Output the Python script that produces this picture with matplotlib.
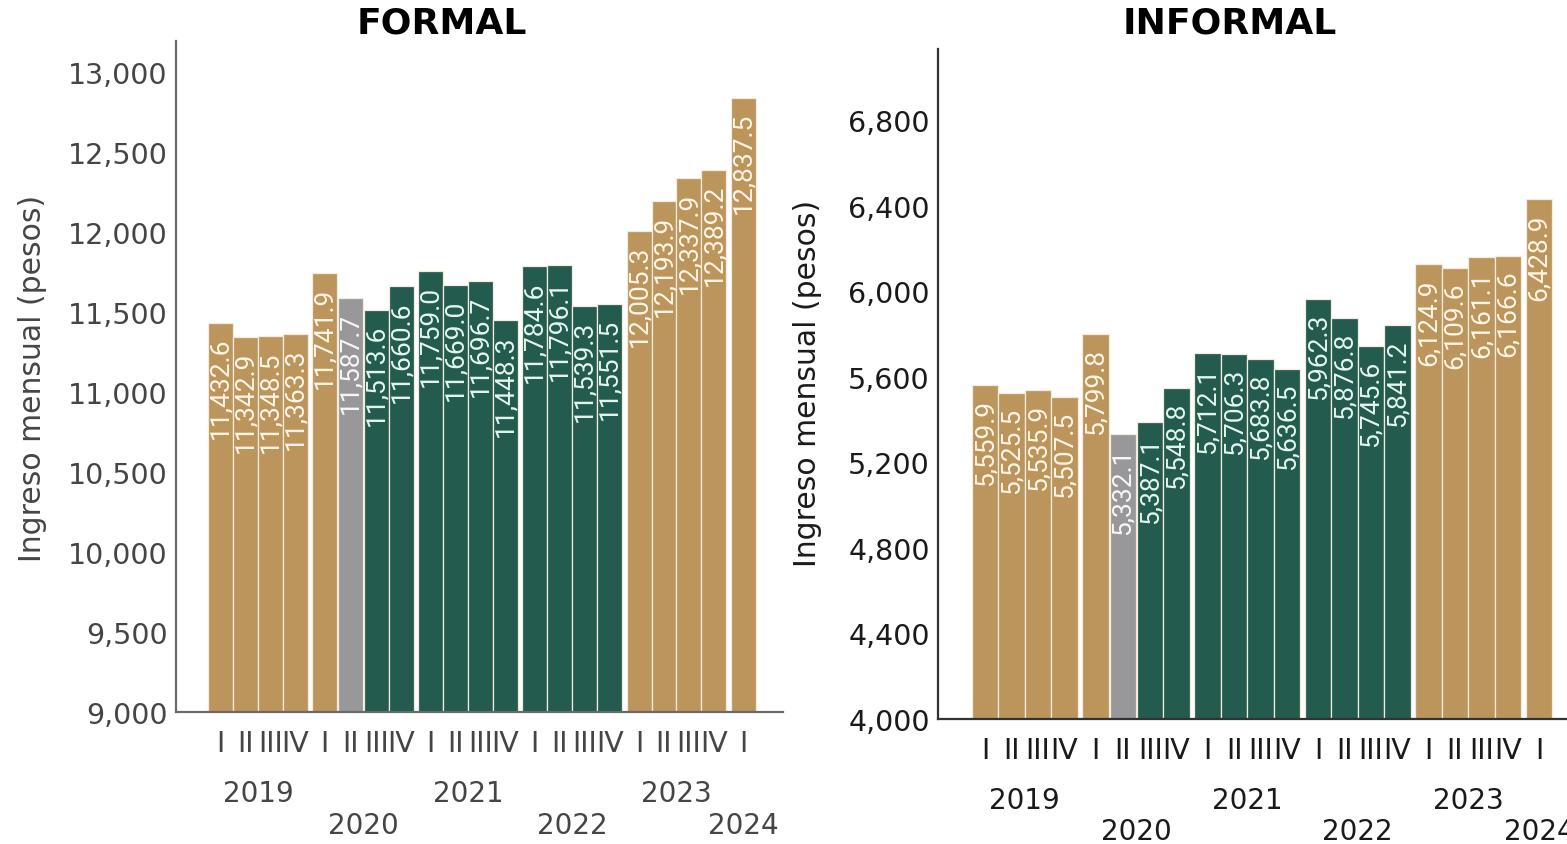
import matplotlib
matplotlib.use("Agg")
import matplotlib.pyplot as plt

plt.rcParams['font.family'] = ['DejaVu Sans']
VAL_FONT = ['Roboto', 'DejaVu Sans']

# ---------------- data ----------------
years = [2019, 2019, 2019, 2019, 2020, 2020, 2020, 2020, 2021, 2021, 2021, 2021,
         2022, 2022, 2022, 2022, 2023, 2023, 2023, 2023, 2024]
quarters = ["I", "II", "III", "IV", "I", "II", "III", "IV", "I", "II", "III", "IV",
            "I", "II", "III", "IV", "I", "II", "III", "IV", "I"]
formal = [11432.6, 11342.9, 11348.5, 11363.3, 11741.9, 11587.7, 11513.6, 11660.6,
          11759.0, 11669.0, 11696.7, 11448.3, 11784.6, 11796.1, 11539.3, 11551.5,
          12005.3, 12193.9, 12337.9, 12389.2, 12837.5]
informal = [5559.9, 5525.5, 5535.9, 5507.5, 5799.8, 5332.1, 5387.1, 5548.8,
            5712.1, 5706.3, 5683.8, 5636.5, 5962.3, 5876.8, 5745.6, 5841.2,
            6124.9, 6109.6, 6161.1, 6166.6, 6428.9]
# period type: a = gold, g = grey, v = green
period = ["a"] * 5 + ["g"] + ["v"] * 10 + ["a"] * 5

GOLD = "#BC955C"
GREEN = "#235B4E"
GREY = "#98989A"
fill = {"a": GOLD, "g": GREY, "v": GREEN}
txtc = {"a": "#FFF6E6", "g": "#F7F7F7", "v": "#E3F6EE"}

# ---------------- positions ----------------
YEAR_GAP = 0.17
SMALL_GAP = 0.03
lefts = []
pos = 0.0
for i in range(len(years)):
    if i > 0:
        if years[i] != years[i - 1]:
            pos += YEAR_GAP
        elif period[i] != period[i - 1]:
            pos += SMALL_GAP
    lefts.append(pos)
    pos += 1.0
centers = [l + 0.5 for l in lefts]

fig = plt.figure(figsize=(15.67, 8.45), dpi=100)
fig.patch.set_facecolor("white")


def panel(ax, vals, ylim, yticks, spine_col, tick_col, ylabel_xy):
    cols = [fill[p] for p in period]
    ax.bar(centers, [v - ylim[0] for v in vals], bottom=ylim[0], width=1.0,
           color=cols, edgecolor="#F3EBDD", linewidth=0.9, zorder=2)
    for c, v, p in zip(centers, vals, period):
        ax.annotate(f"{v:,.1f}", xy=(c, v), xytext=(0, -10), textcoords="offset points",
                    rotation=90, ha="center", va="top", fontsize=19,
                    color=txtc[p], fontweight="normal", family=VAL_FONT, zorder=3)
    ax.set_ylim(*ylim)
    ax.set_xlim(-1.28, 23.0)
    ax.set_yticks(yticks)
    ax.set_yticklabels([f"{t:,}" for t in yticks])
    ax.tick_params(axis="y", length=0, pad=6, labelsize=20.5, labelcolor=tick_col)
    ax.set_xticks(centers)
    ax.set_xticklabels(quarters)
    ax.tick_params(axis="x", length=0, pad=12, labelsize=20.5, labelcolor=tick_col)
    for s in ("top", "right"):
        ax.spines[s].set_visible(False)
    for s in ("left", "bottom"):
        ax.spines[s].set_color(spine_col)
        ax.spines[s].set_linewidth(1.6)
    ax.set_ylabel("Ingreso mensual (pesos)", fontsize=21.5, color=tick_col)
    ax.yaxis.set_label_coords(*ylabel_xy)
    # year labels, staggered on two lines
    uniq = []
    for y in years:
        if y not in uniq:
            uniq.append(y)
    for k, yr in enumerate(uniq):
        cs = [c for c, yy in zip(centers, years) if yy == yr]
        xc = sum(cs) / len(cs)
        off = -58 if k % 2 == 0 else -81
        ax.annotate(str(yr), xy=(xc, 0), xycoords=("data", "axes fraction"),
                    xytext=(0, off), textcoords="offset points", ha="center",
                    va="center", fontsize=20, color=tick_col,
                    annotation_clip=False)


ax1 = fig.add_axes([0.11232, 0.15621, 0.38736, 0.79408])
panel(ax1, formal, (9000, 13194), list(range(9000, 13001, 500)), "#6A6A6A", "#454545",
      (-0.2125, 0.498))

ax2 = fig.add_axes([0.59860, 0.14793, 0.41034, 0.79290])
panel(ax2, informal, (4000, 7132), list(range(4000, 6801, 400)), "#333333", "#1A1A1A",
      (-0.180, 0.502))

fig.text(442 / 1567, 1 - 24 / 845, "FORMAL", ha="center", va="center",
         fontsize=26, fontweight="bold", color="black")
fig.text(1230 / 1567, 1 - 24 / 845, "INFORMAL", ha="center", va="center",
         fontsize=26, fontweight="bold", color="black")

fig.savefig("out.png", dpi=100, facecolor="white")
